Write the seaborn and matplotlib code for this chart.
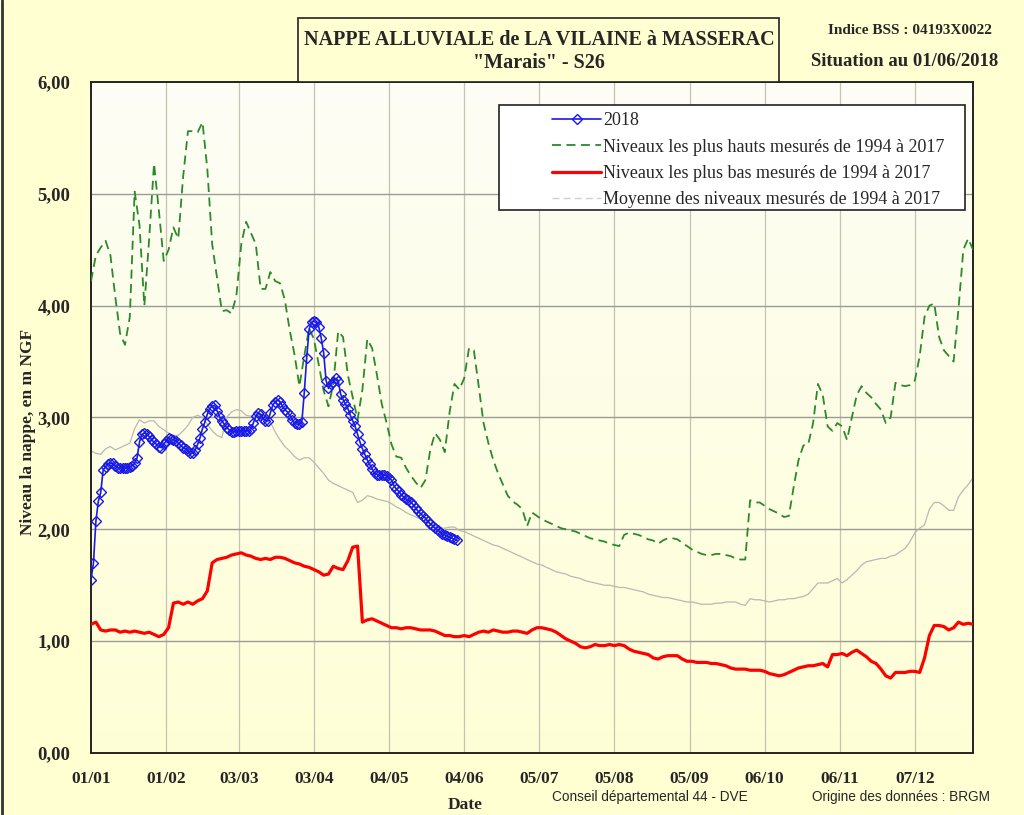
# nappe alluviale de la Vilaine a Masserac - piezometre "Marais" S26
# 2018 levels vs the historic max / min / mean (1994-2017)

import numpy as np
import pandas as pd
import matplotlib
matplotlib.use("Agg")
import matplotlib.pyplot as plt
from matplotlib.colors import LinearSegmentedColormap
from matplotlib.lines import Line2D
from matplotlib.patches import Rectangle
import seaborn as sns

# ------------------------------------------------------------------
# data (m NGF)
# ------------------------------------------------------------------

# 2018, one value per day from 01/01 to 31/05
niveau_2018 = [
    1.55, 1.70, 2.07, 2.25, 2.33, 2.53, 2.56, 2.58, 2.59, 2.59,
    2.57, 2.55, 2.55, 2.55, 2.55, 2.55, 2.56, 2.57, 2.59, 2.64,
    2.78, 2.85, 2.86, 2.85, 2.83, 2.80, 2.78, 2.76, 2.74, 2.73,
    2.76, 2.79, 2.82, 2.81, 2.80, 2.79, 2.77, 2.75, 2.73, 2.72,
    2.70, 2.68, 2.68, 2.71, 2.76, 2.82, 2.90, 2.96, 3.03, 3.08,
    3.10, 3.11, 3.06, 3.01, 2.97, 2.94, 2.91, 2.89, 2.87, 2.87,
    2.88, 2.88, 2.88, 2.88, 2.88, 2.88, 2.90, 2.95, 3.01, 3.04,
    3.03, 2.99, 2.97, 2.97, 3.04, 3.11, 3.14, 3.16, 3.14, 3.10,
    3.07, 3.05, 3.02, 2.98, 2.95, 2.94, 2.94, 2.96, 3.22, 3.53,
    3.79, 3.85, 3.86, 3.85, 3.81, 3.71, 3.58, 3.33, 3.26, 3.30,
    3.32, 3.35, 3.33, 3.21, 3.16, 3.12, 3.08, 3.02, 2.97, 2.92,
    2.85, 2.78, 2.72, 2.67, 2.62, 2.58, 2.54, 2.50, 2.49, 2.49,
    2.49, 2.49, 2.48, 2.46, 2.44, 2.39, 2.36, 2.34, 2.31, 2.29,
    2.27, 2.26, 2.24, 2.22, 2.19, 2.16, 2.14, 2.12, 2.10, 2.07,
    2.05, 2.03, 2.01, 1.99, 1.98, 1.96, 1.95, 1.94, 1.93, 1.92,
    1.91, 1.90,
]

# historic series, one value every 2 days (day 0, 2, ... 364)
niveau_max = [
    4.22, 4.45, 4.52, 4.58, 4.45, 4.08, 3.75, 3.65, 3.90, 5.02,
    4.72, 4.00, 4.60, 5.27, 4.85, 4.40, 4.50, 4.70, 4.60, 5.15,
    5.56, 5.56, 5.55, 5.64, 5.22, 4.55, 4.25, 3.95, 3.96, 3.93,
    4.09, 4.55, 4.75, 4.65, 4.55, 4.15, 4.15, 4.30, 4.22, 4.20,
    4.05, 3.78, 3.56, 3.28, 3.55, 3.80, 3.70, 3.47, 3.24, 3.10,
    3.30, 3.77, 3.72, 3.38, 3.18, 2.98, 3.25, 3.70, 3.62, 3.38,
    3.12, 2.95, 2.76, 2.65, 2.64, 2.55, 2.48, 2.42, 2.37, 2.44,
    2.71, 2.86, 2.80, 2.69, 3.05, 3.30, 3.25, 3.35, 3.62, 3.60,
    3.28, 2.95, 2.77, 2.62, 2.50, 2.40, 2.30, 2.25, 2.22, 2.18,
    2.03, 2.15, 2.12, 2.09, 2.07, 2.05, 2.03, 2.01, 2.00, 1.99,
    1.98, 1.96, 1.94, 1.92, 1.91, 1.90, 1.89, 1.87, 1.86, 1.85,
    1.95, 1.97, 1.96, 1.95, 1.93, 1.91, 1.90, 1.87, 1.90, 1.92,
    1.92, 1.91, 1.88, 1.85, 1.82, 1.80, 1.78, 1.77, 1.77, 1.78,
    1.78, 1.77, 1.76, 1.74, 1.73, 1.73, 2.26, 2.24, 2.24, 2.21,
    2.18, 2.16, 2.14, 2.11, 2.12, 2.38, 2.62, 2.75, 2.76, 2.95,
    3.30, 3.20, 2.92, 2.88, 2.95, 2.92, 2.80, 3.00, 3.20, 3.28,
    3.22, 3.18, 3.12, 3.07, 2.95, 3.00, 3.31, 3.29, 3.28, 3.29,
    3.33, 3.55, 3.90, 4.00, 4.02, 3.72, 3.60, 3.55, 3.50, 3.97,
    4.50, 4.60, 4.50,
]

niveau_min = [
    1.15, 1.17, 1.10, 1.09, 1.10, 1.10, 1.08, 1.09, 1.08, 1.09,
    1.08, 1.07, 1.08, 1.06, 1.04, 1.06, 1.12, 1.34, 1.35, 1.33,
    1.35, 1.33, 1.36, 1.38, 1.45, 1.70, 1.73, 1.74, 1.75, 1.77,
    1.78, 1.79, 1.77, 1.76, 1.74, 1.73, 1.74, 1.73, 1.75, 1.75,
    1.74, 1.72, 1.70, 1.69, 1.67, 1.66, 1.64, 1.62, 1.59, 1.60,
    1.67, 1.65, 1.64, 1.72, 1.84, 1.85, 1.17, 1.19, 1.20, 1.18,
    1.16, 1.14, 1.12, 1.12, 1.11, 1.12, 1.12, 1.11, 1.10, 1.10,
    1.10, 1.09, 1.07, 1.05, 1.05, 1.04, 1.04, 1.05, 1.04, 1.06,
    1.08, 1.09, 1.08, 1.10, 1.09, 1.08, 1.08, 1.09, 1.09, 1.08,
    1.07, 1.10, 1.12, 1.12, 1.11, 1.10, 1.08, 1.05, 1.02, 1.00,
    0.98, 0.95, 0.94, 0.95, 0.97, 0.96, 0.96, 0.97, 0.96, 0.97,
    0.96, 0.93, 0.91, 0.90, 0.89, 0.88, 0.85, 0.84, 0.86, 0.87,
    0.87, 0.87, 0.84, 0.82, 0.82, 0.81, 0.81, 0.81, 0.80, 0.80,
    0.79, 0.78, 0.76, 0.75, 0.75, 0.75, 0.74, 0.74, 0.74, 0.73,
    0.71, 0.70, 0.69, 0.70, 0.72, 0.74, 0.76, 0.77, 0.78, 0.78,
    0.79, 0.80, 0.77, 0.88, 0.88, 0.89, 0.87, 0.90, 0.92, 0.89,
    0.86, 0.82, 0.80, 0.75, 0.69, 0.67, 0.72, 0.72, 0.72, 0.73,
    0.73, 0.72, 0.85, 1.05, 1.14, 1.14, 1.13, 1.10, 1.12, 1.17,
    1.15, 1.16, 1.15,
]

niveau_moy = [
    2.70, 2.68, 2.67, 2.72, 2.74, 2.71, 2.73, 2.75, 2.77, 2.90,
    2.98, 2.95, 2.97, 2.97, 2.92, 2.89, 2.86, 2.84, 2.84, 2.88,
    2.93, 3.00, 3.02, 3.00, 2.94, 2.88, 2.84, 2.82, 3.00, 3.05,
    3.07, 3.06, 3.02, 3.01, 3.01, 3.01, 2.99, 2.96, 2.87, 2.80,
    2.74, 2.70, 2.65, 2.62, 2.64, 2.64, 2.60, 2.55, 2.50, 2.44,
    2.41, 2.39, 2.37, 2.35, 2.33, 2.24, 2.26, 2.30, 2.29, 2.27,
    2.26, 2.25, 2.23, 2.20, 2.18, 2.15, 2.13, 2.11, 2.09, 2.07,
    2.05, 2.03, 2.01, 2.01, 2.02, 2.02, 1.99, 1.98, 1.96, 1.94,
    1.92, 1.90, 1.88, 1.86, 1.85, 1.83, 1.81, 1.79, 1.77, 1.75,
    1.73, 1.71, 1.69, 1.68, 1.66, 1.64, 1.62, 1.61, 1.60, 1.58,
    1.57, 1.56, 1.54, 1.53, 1.52, 1.51, 1.50, 1.50, 1.49, 1.48,
    1.48, 1.47, 1.46, 1.45, 1.44, 1.42, 1.41, 1.40, 1.39, 1.39,
    1.38, 1.37, 1.36, 1.35, 1.35, 1.34, 1.33, 1.33, 1.33, 1.34,
    1.34, 1.35, 1.35, 1.35, 1.33, 1.32, 1.38, 1.37, 1.37, 1.36,
    1.35, 1.36, 1.37, 1.37, 1.38, 1.38, 1.39, 1.40, 1.42, 1.47,
    1.52, 1.52, 1.52, 1.54, 1.56, 1.52, 1.55, 1.59, 1.63, 1.68,
    1.71, 1.72, 1.73, 1.74, 1.74, 1.76, 1.77, 1.80, 1.83, 1.89,
    1.97, 2.01, 2.04, 2.18, 2.24, 2.24, 2.21, 2.17, 2.17, 2.29,
    2.35, 2.40, 2.46,
]

# x axis: day of year, labels as the bulletin shows them
tick_days = [0, 31, 61, 92, 123, 154, 185, 216, 247, 278, 309, 340]
tick_labels = ["01/01", "01/02", "03/03", "03/04", "04/05", "04/06",
               "05/07", "05/08", "05/09", "06/10", "06/11", "07/12"]
y_ticks = [0, 1, 2, 3, 4, 5, 6]
y_labels = ["0,00", "1,00", "2,00", "3,00", "4,00", "5,00", "6,00"]

labels = ["2018",
          "Niveaux les plus hauts mesurés de 1994 à 2017",
          "Niveaux les plus bas mesurés de 1994 à 2017",
          "Moyenne des niveaux mesurés de 1994 à 2017"]

days_2018 = np.arange(len(niveau_2018))
days_hist = np.arange(len(niveau_max)) * 2
assert len(niveau_max) == len(niveau_min) == len(niveau_moy) == 183

hist = pd.DataFrame({"jour": days_hist, "max": niveau_max,
                     "min": niveau_min, "moy": niveau_moy})
df18 = pd.DataFrame({"jour": days_2018, "niveau": niveau_2018})

# ------------------------------------------------------------------
# style
# ------------------------------------------------------------------

sns.set_style("white")
plt.rcParams["font.family"] = ["Liberation Serif", "DejaVu Serif"]

BG = "#FFFFD2"
BLUE = "#1A1AE6"
GREEN = "#2A8A2A"
RED = "#FF0000"
GREY = "#B9B9B2"

fig = plt.figure(figsize=(10.24, 8.15), dpi=100, facecolor=BG)
ax = fig.add_axes([0.0889, 0.0761, 0.8613, 0.8233])

# plot area: pale gradient, whiter at the top
cmap = LinearSegmentedColormap.from_list("fond", ["#FFFFD6", "#FDFDF6"])
ax.imshow(np.linspace(0, 1, 256)[:, None], cmap=cmap, origin="lower",
          extent=(0, 1, 0, 1), transform=ax.transAxes, aspect="auto", zorder=-2)

sns.lineplot(data=hist, x="jour", y="moy", ax=ax, color=GREY, linewidth=0.9, zorder=2)
sns.lineplot(data=hist, x="jour", y="min", ax=ax, color=RED, linewidth=2.3, zorder=3)
sns.lineplot(data=hist, x="jour", y="max", ax=ax, color=GREEN, linewidth=1.3,
             linestyle=(0, (5, 3)), zorder=4)
sns.lineplot(data=df18, x="jour", y="niveau", ax=ax, color=BLUE, linewidth=1.2,
             marker="D", markersize=5.5, markerfacecolor="none",
             markeredgecolor=BLUE, markeredgewidth=1.0, zorder=5)

ax.set_xlim(0, 364)
ax.set_ylim(0, 6)
ax.set_xticks(tick_days)
ax.set_xticklabels(tick_labels, fontsize=12.5, fontweight="bold")
ax.set_yticks(y_ticks)
ax.set_yticklabels(y_labels, fontsize=13.5, fontweight="bold")
ax.tick_params(axis="both", direction="out", length=5, width=1, color="#555555")
ax.tick_params(axis="x", pad=8)
ax.tick_params(axis="y", pad=10)
ax.set_xlabel("")
ax.set_ylabel("")

ax.grid(False)
for d in tick_days[1:]:
    ax.axvline(d, color="#C4C4B0", linewidth=0.9, zorder=0)
for v in y_ticks[1:-1]:
    ax.axhline(v, color="#9C9C94", linewidth=1.0, zorder=0)

for s in ax.spines.values():
    s.set_color("#222222")
    s.set_linewidth(1.4)
    s.set_visible(True)

# legend inside its own white box
fig.patches.append(Rectangle((499 / 1024, 1 - 210 / 815), 466 / 1024, 105 / 815,
                             transform=fig.transFigure, facecolor="white",
                             edgecolor="#222222", linewidth=1.2, zorder=6))
handles = [
    Line2D([], [], color=BLUE, linewidth=1.2, marker="D", markersize=5,
           markerfacecolor="none", markeredgecolor=BLUE, markevery=[1]),
    Line2D([], [], color=GREEN, linewidth=1.3, linestyle=(0, (5, 3))),
    Line2D([], [], color=RED, linewidth=2.3),
    Line2D([], [], color="#CFCFCF", linewidth=1.0, linestyle=(0, (5, 3))),
]
for h in handles:
    h.set_xdata([0, 0.5, 1])
    h.set_ydata([0, 0, 0])
leg = fig.legend(handles, labels, loc="upper left",
                 bbox_to_anchor=(536 / 1024, 1 - 96 / 815),
                 frameon=False, fontsize=13, handlelength=2.7,
                 handletextpad=0.1, labelspacing=0.52)
leg.set_zorder(7)

# title box
fig.patches.append(Rectangle((298 / 1024, 1 - 82 / 815), 481 / 1024, 64 / 815,
                             transform=fig.transFigure, facecolor=BG,
                             edgecolor="#222222", linewidth=1.2, zorder=1))
fig.text(539 / 1024, 1 - 40 / 815, "NAPPE ALLUVIALE de LA VILAINE à MASSERAC",
         ha="center", va="center", fontsize=14.5, fontweight="bold")
fig.text(539 / 1024, 1 - 63 / 815, '"Marais" - S26',
         ha="center", va="center", fontsize=14.5, fontweight="bold")

fig.text(910 / 1024, 1 - 30 / 815, "Indice BSS : 04193X0022",
         ha="center", va="center", fontsize=11, fontweight="bold")
fig.text(905 / 1024, 1 - 62 / 815, "Situation au 01/06/2018",
         ha="center", va="center", fontsize=13.5, fontweight="bold")

fig.text(28 / 1024, 1 - 432 / 815, "Niveau la nappe, en m NGF", rotation=90,
         ha="center", va="center", fontsize=12.5, fontweight="bold")
fig.text(465 / 1024, 1 - 805 / 815, "Date", ha="center", va="center",
         fontsize=12.5, fontweight="bold")

narrow = ["Liberation Sans Narrow", "Liberation Sans", "DejaVu Sans"]
fig.text(650 / 1024, 1 - 797 / 815, "Conseil départemental 44 - DVE",
         ha="center", va="center", fontsize=9.8, family=narrow)
fig.text(901 / 1024, 1 - 797 / 815, "Origine des données : BRGM",
         ha="center", va="center", fontsize=9.8, family=narrow)

# thin frame line on the left edge of the bulletin
fig.lines.append(Line2D([0.002, 0.002], [0, 1], transform=fig.transFigure,
                        color="#333333", linewidth=2))

fig.savefig("out.png", dpi=100, facecolor=BG)
